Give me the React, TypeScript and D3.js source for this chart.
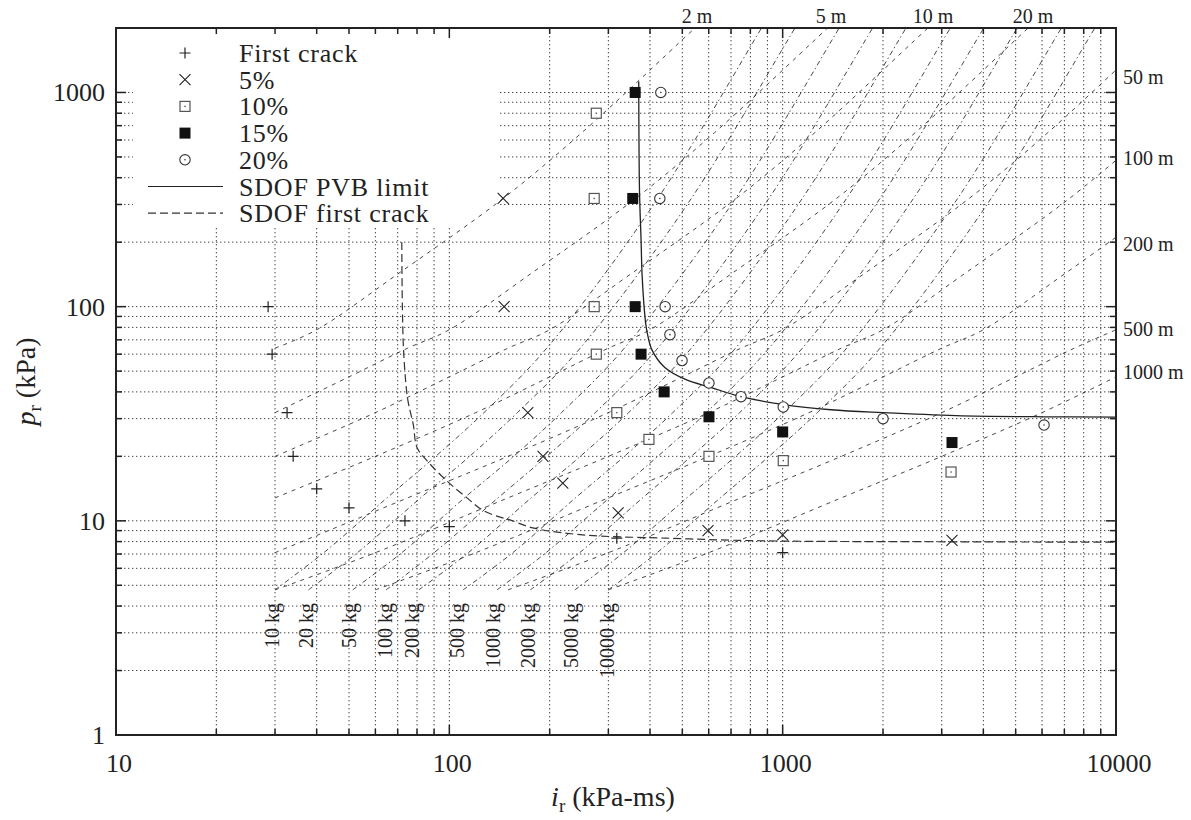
import React from 'react';
import * as d3 from 'd3';

const WIDTH = 1191;
const HEIGHT = 820;
const plot = { left: 116, right: 1116, top: 28, bottom: 735 };

// experimental points, i_r (kPa-ms) and p_r (kPa)
const firstCrackI = [28.6, 29.4, 32.6, 34, 40, 50, 73.6, 100, 318, 1000];
const firstCrackP = [100, 60, 32, 20, 14.1, 11.5, 10, 9.4, 8.3, 7.1];
const crack5I = [145, 146, 172, 191, 219, 321, 597, 1000, 3221];
const crack5P = [320, 100, 32, 20, 15, 10.9, 9, 8.6, 8.1];
const crack10I = [276, 272, 272, 276, 318, 397, 601, 1004, 3200];
const crack10P = [800, 320, 100, 60, 32, 24, 20, 19.1, 16.9];
const crack15I = [361, 355, 361, 376, 441, 601, 1000, 3221];
const crack15P = [1000, 320, 100, 60, 40, 30.6, 26, 23.2];
const crack20I = [431, 428, 444, 459, 499, 601, 750, 1004, 2000, 6083];
const crack20P = [1000, 320, 100, 74, 56, 44, 38, 34, 30, 28];

// SDOF curves
const pvbI = [370, 372, 376, 379, 388, 392, 405, 443, 513, 611, 744, 1006, 1397, 2000, 3321, 6063, 10000];
const pvbP = [1125, 346, 205, 137, 84, 76, 63, 52, 45.6, 41.9, 38.1, 34.9, 33.0, 32.0, 31.0, 30.6, 30.5];
const sdofCrackI = [72, 72.3, 73, 75, 78, 80, 87, 100, 113, 126, 142, 152, 178, 251, 446, 855, 3311, 10000];
const sdofCrackP = [200, 100, 60, 37, 28, 22, 18.6, 15, 12.8, 11.2, 10.4, 10.1, 9.27, 8.6, 8.3, 8.07, 7.98, 7.95];

// constant stand-off lines [i, p]
const range2m = [[30, 64], [40, 78], [70, 142], [145, 320], [250, 650], [513, 1830], [560, 2080]];
const range5m = [[30, 32], [50, 47], [75, 64], [100, 78], [175, 142], [362, 320], [625, 650], [1283, 1830], [1400, 2080]];
const range10m = [[30, 20], [60, 32], [100, 47], [150, 64], [200, 78], [350, 142], [725, 320], [1250, 650], [2565, 1830], [2800, 2080]];
const range20m = [[30, 12.8], [60, 20], [120, 32], [200, 47], [300, 64], [400, 78], [700, 142], [1450, 320], [2500, 650], [5130, 1830], [5600, 2080]];
const range50m = [[30, 7.1], [75, 12.8], [150, 20], [300, 32], [500, 47], [750, 64], [1000, 78], [1750, 142], [3625, 320], [6250, 650], [12800, 1830]];
const range100m = [[30, 4.76], [60, 7.1], [150, 12.8], [300, 20], [600, 32], [1000, 47], [1500, 64], [2000, 78], [3500, 142], [7250, 320], [12500, 650]];
const range200m = [[60, 4.76], [120, 7.1], [300, 12.8], [600, 20], [1200, 32], [2000, 47], [3000, 64], [4000, 78], [7000, 142], [14500, 320]];
const range500m = [[150, 4.76], [300, 7.1], [750, 12.8], [1500, 20], [3000, 32], [5000, 47], [7500, 64], [10000, 78]];
const range1000m = [[300, 4.76], [600, 7.1], [1500, 12.8], [3000, 20], [6000, 32], [10000, 47]];

// constant charge mass lines [i, p]
const mass10 = [[30, 4.76], [42, 7.1], [65, 12.8], [91, 20], [127, 32], [196, 64], [422, 320], [835, 1830], [880, 2100]];
const mass20 = [[37.8, 4.76], [53, 7.1], [82, 12.8], [115, 20], [160, 32], [247, 64], [532, 320], [1052, 1830], [1109, 2100]];
const mass50 = [[51.3, 4.76], [72, 7.1], [111, 12.8], [156, 20], [217, 32], [335, 64], [722, 320], [1428, 1830], [1505, 2100]];
const mass100 = [[64.6, 4.76], [90, 7.1], [140, 12.8], [196, 20], [274, 32], [422, 64], [909, 320], [1799, 1830], [1896, 2100]];
const mass200 = [[81, 4.76], [114, 7.1], [176, 12.8], [247, 20], [345, 32], [532, 64], [1145, 320], [2266, 1830], [2388, 2100]];
const mass500 = [[110, 4.76], [155, 7.1], [239, 12.8], [335, 20], [468, 32], [722, 64], [1555, 320], [3076, 1830], [3242, 2100]];
const mass1000 = [[139, 4.76], [195, 7.1], [302, 12.8], [422, 20], [590, 32], [910, 64], [1959, 320], [3876, 1830], [4085, 2100]];
const mass2000 = [[175, 4.76], [246, 7.1], [380, 12.8], [532, 20], [743, 32], [1146, 64], [2468, 320], [4883, 1830], [5146, 2100]];
const mass5000 = [[238, 4.76], [333, 7.1], [516, 12.8], [722, 20], [1008, 32], [1556, 64], [3349, 320], [6627, 1830], [6985, 2100]];
const mass10000 = [[300, 4.76], [420, 7.1], [650, 12.8], [910, 20], [1270, 32], [1960, 64], [4220, 320], [8350, 1830], [8800, 2100]];

const rangeLines = [range2m, range5m, range10m, range20m, range50m, range100m, range200m, range500m, range1000m];
const massLines = [mass10, mass20, mass50, mass100, mass200, mass500, mass1000, mass2000, mass5000, mass10000];

// labels
const massLabels = ['10 kg', '20 kg', '50 kg', '100 kg', '200 kg', '500 kg', '1000 kg', '2000 kg', '5000 kg', '10000 kg'];
const massLabelI = [30, 38, 51, 65.5, 79, 108, 138, 176, 237, 303];
const topRangeLabels = ['2 m', '5 m', '10 m', '20 m'];
const topRangeLabelI = [553, 1396, 2826, 5640];
const sideRangeLabels = ['50 m', '100 m', '200 m', '500 m', '1000 m'];
const sideRangeLabelP = [1176, 497, 197, 79, 49.6];

const xMajor = [10, 100, 1000, 10000];
const yMajor = [1, 10, 100, 1000];

const legendItems = ['First crack', '5%', '10%', '15%', '20%', 'SDOF PVB limit', 'SDOF first crack'];

const FONT = '"Liberation Serif", "DejaVu Serif", serif';
const INK = '#222';

function Marker({ kind, cx, cy }: { kind: string; cx: number; cy: number }) {
  if (kind === 'plus') {
    return (
      <path d={`M${cx - 5.5},${cy}H${cx + 5.5}M${cx},${cy - 5.5}V${cy + 5.5}`} stroke={INK} strokeWidth={1.2} fill="none" />
    );
  }
  if (kind === 'cross') {
    return (
      <path d={`M${cx - 5.5},${cy - 5.5}L${cx + 5.5},${cy + 5.5}M${cx - 5.5},${cy + 5.5}L${cx + 5.5},${cy - 5.5}`} stroke={INK} strokeWidth={1.1} fill="none" />
    );
  }
  if (kind === 'square') {
    return (
      <g>
        <rect x={cx - 5} y={cy - 5} width={10} height={10} fill="white" stroke="#555" strokeWidth={1.2} />
        <rect x={cx - 0.7} y={cy - 0.7} width={1.4} height={1.4} fill="#555" />
      </g>
    );
  }
  if (kind === 'filled') {
    return <rect x={cx - 5.5} y={cy - 5.5} width={11} height={11} fill="#111" />;
  }
  return (
    <g>
      <circle cx={cx} cy={cy} r={5.2} fill="white" stroke="#333" strokeWidth={1.1} />
      <circle cx={cx} cy={cy} r={0.8} fill="#333" />
    </g>
  );
}

export default function App() {
  const x = d3.scaleLog().domain([10, 10000]).range([plot.left, plot.right]);
  const y = d3.scaleLog().domain([1, 2000]).range([plot.bottom, plot.top]);

  const line = d3
    .line<number[]>()
    .x((d) => x(d[0]))
    .y((d) => y(d[1]))
    .curve(d3.curveCatmullRom.alpha(0.5));

  const xTicks = x.ticks();
  const yTicks = y.ticks();

  const series = [
    { kind: 'plus', i: firstCrackI, p: firstCrackP },
    { kind: 'cross', i: crack5I, p: crack5P },
    { kind: 'square', i: crack10I, p: crack10P },
    { kind: 'filled', i: crack15I, p: crack15P },
    { kind: 'circle', i: crack20I, p: crack20P },
  ];

  const pvb = pvbI.map((v, k) => [v, pvbP[k]]);
  const sdofCrack = sdofCrackI.map((v, k) => [v, sdofCrackP[k]]);

  const legendRowY = (k: number) => 53 + k * 26.7;

  return (
    <div>
      <style>{'body{margin:0}'}</style>
      <svg width={WIDTH} height={HEIGHT} style={{ display: 'block', background: 'white' }} fontFamily={FONT}>
        <defs>
          <clipPath id="plotClip">
            <rect x={plot.left} y={plot.top} width={plot.right - plot.left} height={plot.bottom - plot.top} />
          </clipPath>
        </defs>

        {/* grid */}
        <g stroke="#444" strokeWidth={1} strokeDasharray="1.4,2.6" fill="none">
          {xTicks
            .filter((t) => t > 10 && t < 10000)
            .map((t) => (
              <line key={`gx${t}`} x1={x(t)} x2={x(t)} y1={plot.top} y2={plot.bottom} />
            ))}
          {yTicks
            .filter((t) => t > 1 && t < 2000)
            .map((t) => (
              <line key={`gy${t}`} x1={plot.left} x2={plot.right} y1={y(t)} y2={y(t)} />
            ))}
        </g>

        {/* opaque key area */}
        <rect x={133} y={30} width={365} height={198} fill="white" />

        <g clipPath="url(#plotClip)" fill="none">
          {rangeLines.map((pts, k) => (
            <path key={`r${k}`} d={line(pts) || ''} stroke="#333" strokeWidth={0.9} strokeDasharray="4,5" />
          ))}
          {massLines.map((pts, k) => (
            <path key={`w${k}`} d={line(pts) || ''} stroke="#333" strokeWidth={0.9} strokeDasharray="5,3,1.4,3" />
          ))}
          <path d={line(sdofCrack) || ''} stroke="#333" strokeWidth={1.2} strokeDasharray="8,4" />
          <path d={line(pvb) || ''} stroke={INK} strokeWidth={1.3} />
        </g>

        {/* data points */}
        {series.map((s) =>
          s.i.map((v, k) => <Marker key={`${s.kind}${k}`} kind={s.kind} cx={x(v)} cy={y(s.p[k])} />)
        )}

        {/* frame and ticks */}
        <g stroke={INK} fill="none">
          {xTicks.map((t) => {
            const len = xMajor.includes(t) ? 10 : 6;
            return (
              <g key={`tx${t}`} strokeWidth={1.5}>
                <line x1={x(t)} x2={x(t)} y1={plot.bottom} y2={plot.bottom - len} />
                <line x1={x(t)} x2={x(t)} y1={plot.top} y2={plot.top + len} />
              </g>
            );
          })}
          {yTicks.map((t) => {
            const len = yMajor.includes(t) ? 10 : 6;
            return (
              <g key={`ty${t}`} strokeWidth={1.5}>
                <line x1={plot.left} x2={plot.left + len} y1={y(t)} y2={y(t)} />
                <line x1={plot.right} x2={plot.right - len} y1={y(t)} y2={y(t)} />
              </g>
            );
          })}
          <rect x={plot.left} y={plot.top} width={plot.right - plot.left} height={plot.bottom - plot.top} strokeWidth={2} />
        </g>

        {/* tick labels */}
        <g fill={INK} fontSize={26}>
          {xMajor.map((t) => (
            <text key={`lx${t}`} x={x(t) + 3} y={772} textAnchor="middle">
              {t}
            </text>
          ))}
          {yMajor.map((t) => (
            <text key={`ly${t}`} x={105} y={y(t) + 9} textAnchor="end">
              {t}
            </text>
          ))}
        </g>

        {/* axis titles */}
        <text x={613} y={806} textAnchor="middle" fontSize={28} fill={INK}>
          <tspan fontStyle="italic">i</tspan>
          <tspan fontSize={19} dy={6}>r</tspan>
          <tspan dy={-6}> (kPa-ms)</tspan>
        </text>
        <text transform={`translate(35,${(plot.top + plot.bottom) / 2}) rotate(-90)`} textAnchor="middle" fontSize={28} fill={INK}>
          <tspan fontStyle="italic">p</tspan>
          <tspan fontSize={19} dy={6}>r</tspan>
          <tspan dy={-6}> (kPa)</tspan>
        </text>

        {/* mesh labels */}
        <g fill={INK} fontSize={20}>
          {massLabels.map((lab, k) => (
            <text key={lab} transform={`translate(${x(massLabelI[k]) - 3},603) rotate(-90)`} dy="0.35em" textAnchor="end">
              {lab}
            </text>
          ))}
          {topRangeLabels.map((lab, k) => (
            <text key={lab} x={x(topRangeLabelI[k])} y={23} textAnchor="middle">
              {lab}
            </text>
          ))}
          {sideRangeLabels.map((lab, k) => (
            <text key={lab} x={1123} y={y(sideRangeLabelP[k]) + 7}>
              {lab}
            </text>
          ))}
        </g>

        {/* legend */}
        <g>
          {legendItems.map((lab, k) => {
            const ly = legendRowY(k);
            let sample: React.ReactNode;
            if (k < 5) sample = <Marker kind={series[k].kind} cx={185} cy={ly} />;
            else if (k === 5) sample = <line x1={148} x2={223} y1={ly} y2={ly} stroke={INK} strokeWidth={1.2} />;
            else sample = <line x1={148} x2={223} y1={ly} y2={ly} stroke="#333" strokeWidth={1.2} strokeDasharray="8,4" />;
            return (
              <g key={lab}>
                {sample}
                <text x={239} y={ly + 9} fontSize={26} letterSpacing={0.8} fill={INK}>
                  {lab}
                </text>
              </g>
            );
          })}
        </g>
      </svg>
    </div>
  );
}
